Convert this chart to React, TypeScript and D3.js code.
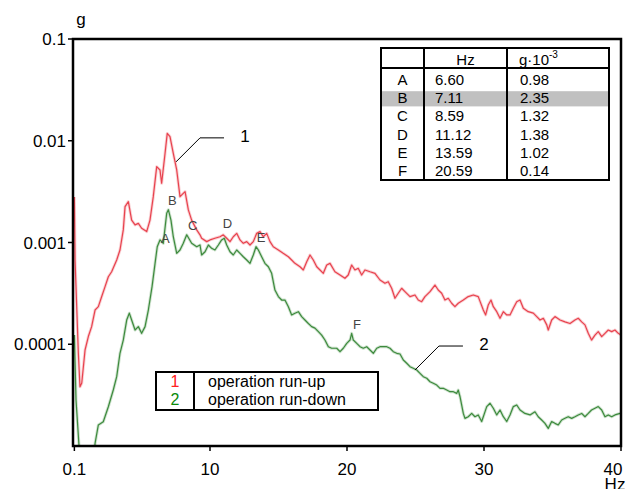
import React from 'react';
import * as d3 from 'd3';

// operation run-up (curve 1): [Hz, g]
const runUp: [number, number][] = [
  [0.1, 0.0028], [0.15, 0.000673], [0.39, 0.000082], [0.51, 0.0000382], [0.64, 0.0000416], [0.88, 0.0000878],
  [1.12, 0.000119], [1.36, 0.000149], [1.61, 0.000217], [1.85, 0.000234], [2.09, 0.000293], [2.34, 0.000368],
  [2.58, 0.000461], [2.82, 0.000516], [3.19, 0.000673], [3.43, 0.000844], [3.67, 0.00133], [3.8, 0.00225],
  [4.04, 0.00252], [4.28, 0.00166], [4.53, 0.00149], [4.77, 0.00154], [5.01, 0.00138], [5.38, 0.00128],
  [5.62, 0.00166], [5.86, 0.00282], [6.11, 0.00556], [6.35, 0.00516], [6.47, 0.00382], [6.72, 0.00753],
  [6.88, 0.0118], [7.08, 0.011], [7.32, 0.00753], [7.57, 0.00516], [7.81, 0.00282], [8.18, 0.00316],
  [8.42, 0.00209], [8.66, 0.00166], [9.03, 0.00133], [9.27, 0.00119], [9.39, 0.0011], [9.76, 0.00102],
  [10.0, 0.00106], [10.36, 0.0011], [10.73, 0.00114], [10.97, 0.00119], [11.22, 0.0011], [11.46, 0.00102],
  [11.7, 0.00114], [11.95, 0.00123], [12.19, 0.00106], [12.43, 0.000982], [12.68, 0.00102], [12.92, 0.000945],
  [13.16, 0.00102], [13.41, 0.00123], [13.65, 0.00128], [13.89, 0.00114], [14.14, 0.00123], [14.38, 0.00102],
  [14.62, 0.000909], [14.99, 0.000844], [15.34, 0.000783], [15.72, 0.000725], [15.96, 0.000673], [16.2, 0.000624],
  [16.57, 0.000578], [16.81, 0.000537], [17.06, 0.000647], [17.3, 0.000754], [17.54, 0.000673], [17.79, 0.000578],
  [18.03, 0.000537], [18.27, 0.000498], [18.52, 0.000601], [18.76, 0.000624], [19.12, 0.000516], [19.49, 0.000479],
  [19.85, 0.000445], [20.09, 0.000479], [20.34, 0.000601], [20.58, 0.000537], [20.82, 0.000558], [21.07, 0.000479],
  [21.31, 0.000537], [21.68, 0.000516], [22.04, 0.000498], [22.41, 0.000428], [22.77, 0.000397], [23.01, 0.000412],
  [23.26, 0.000355], [23.5, 0.000283], [23.74, 0.000317], [23.99, 0.000355], [24.23, 0.000329], [24.6, 0.000294],
  [24.96, 0.000305], [25.2, 0.000272], [25.45, 0.000262], [25.69, 0.000294], [26.06, 0.000329], [26.42, 0.000382],
  [26.66, 0.000341], [26.91, 0.000317], [27.15, 0.000272], [27.39, 0.000283], [27.64, 0.000253], [27.88, 0.000234],
  [28.12, 0.000253], [28.49, 0.000272], [28.85, 0.000294], [29.22, 0.000305], [29.58, 0.000294], [29.95, 0.000217],
  [30.12, 0.000194], [30.31, 0.000243], [30.51, 0.000272], [30.68, 0.000234], [30.93, 0.000209], [31.17, 0.00018],
  [31.41, 0.000209], [31.66, 0.000194], [31.9, 0.000194], [32.14, 0.000226], [32.39, 0.000262], [32.63, 0.000272],
  [32.87, 0.000226], [33.23, 0.000209], [33.6, 0.000202], [33.85, 0.000187], [34.09, 0.000173], [34.33, 0.00018],
  [34.58, 0.000155], [34.69, 0.000138], [34.94, 0.000173], [35.18, 0.000187], [35.55, 0.000173], [35.91, 0.000166],
  [36.28, 0.00016], [36.64, 0.000173], [36.88, 0.00018], [37.13, 0.000166], [37.37, 0.000155], [37.61, 0.000128],
  [37.85, 0.00011], [38.1, 0.000123], [38.34, 0.000133], [38.59, 0.000119], [38.83, 0.000128], [39.07, 0.000138],
  [39.32, 0.000133], [39.56, 0.000138], [39.8, 0.000128], [40, 0.000123],
];

// operation run-down (curve 2): [Hz, g]
const runDown: [number, number][] = [
  [0.1, 0.000123], [0.22, 0.0000283], [0.44, 0.00001], [0.5, 0.000008], [1.55, 0.000008], [1.61, 0.0000106],
  [1.85, 0.0000161], [2.21, 0.0000173], [2.58, 0.0000243], [2.94, 0.0000355], [3.19, 0.000048], [3.43, 0.0000815],
  [3.67, 0.00011], [3.92, 0.000173], [4.11, 0.000202], [4.28, 0.000173], [4.53, 0.000138], [4.77, 0.000149],
  [5.01, 0.000128], [5.26, 0.000149], [5.5, 0.000217], [5.77, 0.000368], [5.99, 0.000624], [6.15, 0.000909],
  [6.35, 0.00106], [6.59, 0.000982], [6.84, 0.00194], [6.96, 0.0021], [7.15, 0.00166], [7.32, 0.00114],
  [7.57, 0.000783], [7.81, 0.000844], [8.05, 0.000982], [8.3, 0.00119], [8.66, 0.000982], [9.03, 0.000909],
  [9.27, 0.000945], [9.39, 0.000754], [9.64, 0.000812], [9.88, 0.000945], [10.12, 0.000877], [10.36, 0.000844],
  [10.61, 0.000945], [10.85, 0.00106], [11.04, 0.0011], [11.22, 0.000945], [11.46, 0.000812], [11.7, 0.000754],
  [11.95, 0.000844], [12.19, 0.000783], [12.43, 0.000725], [12.68, 0.000673], [12.92, 0.000624], [13.16, 0.000754],
  [13.36, 0.000909], [13.53, 0.000844], [13.77, 0.000725], [14.01, 0.000624], [14.26, 0.000578], [14.5, 0.000498],
  [14.74, 0.000341], [14.99, 0.000294], [15.23, 0.000272], [15.47, 0.000272], [15.72, 0.000234], [15.96, 0.000194],
  [16.2, 0.000202], [16.45, 0.000209], [16.69, 0.000187], [16.93, 0.000173], [17.18, 0.00016], [17.42, 0.000149],
  [17.66, 0.000144], [17.91, 0.000133], [18.15, 0.000123], [18.39, 0.00011], [18.64, 0.0000946], [18.88, 0.0000913],
  [19.25, 0.0000913], [19.49, 0.0000845], [19.73, 0.0000913], [19.98, 0.000102], [20.22, 0.00011], [20.34, 0.000128],
  [20.46, 0.00011], [20.71, 0.000102], [20.95, 0.0000946], [21.19, 0.0000913], [21.44, 0.0000946], [21.68, 0.0000878],
  [21.92, 0.0000815], [22.17, 0.0000913], [22.41, 0.0000946], [22.65, 0.0000946], [22.9, 0.0000946], [23.14, 0.0000913],
  [23.38, 0.0000845], [23.63, 0.0000815], [23.87, 0.0000802], [24.11, 0.00007], [24.36, 0.000065], [24.6, 0.0000602],
  [24.84, 0.000058], [25.09, 0.0000558], [25.33, 0.0000518], [25.57, 0.000048], [25.82, 0.0000463], [26.06, 0.0000428],
  [26.3, 0.0000413], [26.55, 0.0000397], [26.79, 0.0000369], [27.03, 0.0000369], [27.28, 0.0000355], [27.52, 0.0000342],
  [27.76, 0.0000342], [28.01, 0.0000329], [28.12, 0.0000355], [28.25, 0.0000305], [28.49, 0.0000209], [28.61, 0.0000187],
  [28.85, 0.0000194], [29.1, 0.0000209], [29.34, 0.0000194], [29.58, 0.0000202], [29.83, 0.0000174], [29.95, 0.0000194],
  [30.2, 0.0000244], [30.44, 0.0000263], [30.68, 0.0000235], [30.93, 0.0000202], [31.17, 0.0000226], [31.41, 0.0000194],
  [31.66, 0.0000174], [31.9, 0.0000202], [32.14, 0.0000244], [32.39, 0.0000253], [32.63, 0.0000226], [32.99, 0.0000209],
  [33.36, 0.0000202], [33.72, 0.0000217], [33.96, 0.0000194], [34.21, 0.000018], [34.45, 0.0000167], [34.69, 0.0000149],
  [34.94, 0.0000174], [35.18, 0.0000167], [35.42, 0.0000161], [35.67, 0.000018], [35.91, 0.0000187], [36.15, 0.0000194],
  [36.4, 0.0000187], [36.64, 0.0000194], [36.88, 0.0000202], [37.13, 0.0000209], [37.37, 0.0000194], [37.61, 0.0000209],
  [37.85, 0.0000226], [38.1, 0.0000235], [38.34, 0.0000244], [38.59, 0.0000226], [38.83, 0.0000194], [39.07, 0.0000202],
  [39.32, 0.0000194], [39.56, 0.0000202], [39.93, 0.0000209],
];

// peak table
const peakNames = ['A', 'B', 'C', 'D', 'E', 'F'];
const peakHz = [6.6, 7.11, 8.59, 11.12, 13.59, 20.59];
const peakG = [0.98, 2.35, 1.32, 1.38, 1.02, 0.14]; // g·10^-3

const xTicks = [0.1, 10, 20, 30, 40];
const xTickLabels = ['0.1', '10', '20', '30', '40'];
const yTicks = [0.1, 0.01, 0.001, 0.0001];
const yTickLabels = ['0.1', '0.01', '0.001', '0.0001'];

const legendKeys = ['1', '2'];
const legendNames = ['operation run-up', 'operation run-down'];

const W = 627, H = 489;
const FONT = '"Liberation Sans", Arial, sans-serif';
const RED = '#e8424e';
const GREEN = '#3d8a3d';

export default function App() {
  const left = 73, right = 621, top = 39, bottom = 446;
  const x = d3.scaleLinear().domain([0, 40]).range([left, right]);
  const y = d3.scaleLog().domain([1e-5, 0.1]).range([bottom, top]);
  const line = d3.line<[number, number]>().x(d => x(d[0])).y(d => y(d[1]));

  // table layout
  const tL = 381, tR = 609, tT = 48, tB = 180, c1 = 424, c2 = 507, hdr = 68, rowH = 18.2;

  // leader lines for curve labels (anchored on curves)
  const ann = [
    { key: '1', hz: 7.52, g: 0.0062 },
    { key: '2', hz: 24.96, g: 0.0000558 },
  ];

  return (
    <div>
      <style>{'body{margin:0}'}</style>
      <svg width={W} height={H} style={{ display: 'block', background: '#fff' }} fontFamily={FONT}>
        <defs>
          <clipPath id="plot-clip">
            <rect x={left} y={top} width={right - left} height={bottom - top} />
          </clipPath>
        </defs>

        {/* curves */}
        <g clipPath="url(#plot-clip)" fill="none" strokeLinejoin="round">
          <path d={line(runUp) || ''} stroke={RED} strokeOpacity={0.25} strokeWidth={3} />
          <path d={line(runUp) || ''} stroke={RED} strokeWidth={1.2} />
          <path d={line(runDown) || ''} stroke={GREEN} strokeOpacity={0.25} strokeWidth={3} />
          <path d={line(runDown) || ''} stroke={GREEN} strokeWidth={1.2} />
        </g>

        {/* frame */}
        <rect x={left} y={top} width={right - left} height={bottom - top} fill="none" stroke="#000" strokeWidth={2.5} />

        {/* y axis */}
        {yTicks.map((t, i) => (
          <g key={'y' + i}>
            <line x1={left - 5} x2={left} y1={y(t)} y2={y(t)} stroke="#000" strokeWidth={1.5} />
            <text x={left - 7} y={y(t) + 6} textAnchor="end" fontSize={17}>{yTickLabels[i]}</text>
          </g>
        ))}
        <text x={81} y={25} textAnchor="middle" fontSize={17}>g</text>

        {/* x axis */}
        {xTicks.map((t, i) => (
          <g key={'x' + i}>
            <line x1={x(t)} x2={x(t)} y1={bottom} y2={bottom + 5} stroke="#000" strokeWidth={1.5} />
            <text x={i === xTicks.length - 1 ? x(t) - 8 : x(t)} y={475} textAnchor="middle" fontSize={17}>{xTickLabels[i]}</text>
          </g>
        ))}
        <text x={615} y={490} textAnchor="middle" fontSize={17}>Hz</text>

        {/* peak letters */}
        {peakNames.map((n, i) => (
          <text key={n} x={x(peakHz[i]) + 2} y={y(peakG[i] * 1e-3)} textAnchor="middle" fontSize={13} fill="#444">{n}</text>
        ))}

        {/* curve labels with leaders */}
        {ann.map(a => {
          const ax = x(a.hz), ay = y(a.g);
          return (
            <g key={a.key}>
              <polyline points={`${ax},${ay} ${ax + 24},${ay - 24} ${ax + 48},${ay - 24}`} fill="none" stroke="#000" strokeWidth={1} />
              <text x={ax + 69} y={ay - 20} textAnchor="middle" fontSize={17}>{a.key}</text>
            </g>
          );
        })}

        {/* table */}
        <g fontSize={15}>
          <rect x={tL} y={tT + 25 + rowH} width={tR - tL} height={rowH - 3} fill="#c0c0c0" />
          <rect x={tL} y={tT} width={tR - tL} height={tB - tT} fill="none" stroke="#000" strokeWidth={2} />
          <line x1={c1} x2={c1} y1={tT} y2={tB} stroke="#000" strokeWidth={2} />
          <line x1={c2} x2={c2} y1={tT} y2={tB} stroke="#000" strokeWidth={2} />
          <line x1={tL} x2={tR} y1={hdr} y2={hdr} stroke="#000" strokeWidth={2} />
          <text x={(c1 + c2) / 2} y={65} textAnchor="middle">Hz</text>
          <text x={519} y={65}>g·10<tspan dy={-7} fontSize={10}>-3</tspan></text>
          {peakNames.map((n, i) => (
            <g key={'r' + n}>
              <text x={(tL + c1) / 2} y={85 + i * rowH} textAnchor="middle">{n}</text>
              <text x={435} y={85 + i * rowH}>{peakHz[i].toFixed(2)}</text>
              <text x={520} y={85 + i * rowH}>{peakG[i].toFixed(2)}</text>
            </g>
          ))}
        </g>

        {/* legend */}
        <g fontSize={16}>
          <rect x={156} y={372} width={222} height={38} fill="#fff" stroke="#000" strokeWidth={2} />
          <line x1={194} x2={194} y1={372} y2={410} stroke="#000" strokeWidth={2} />
          {legendKeys.map((k, i) => (
            <g key={'l' + k}>
              <text x={175} y={387 + i * 18} textAnchor="middle" fill={i === 0 ? '#ff2020' : '#0a8a0a'}>{k}</text>
              <text x={208} y={387 + i * 18}>{legendNames[i]}</text>
            </g>
          ))}
        </g>
      </svg>
    </div>
  );
}
